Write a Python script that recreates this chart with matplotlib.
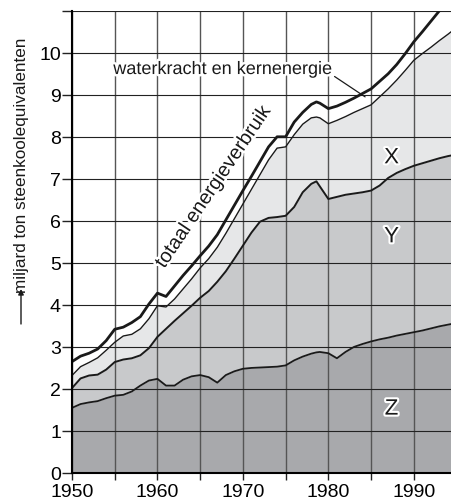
# Wereldenergieverbruik 1950-1995, gestapelde vlakken (Z, Y, X, waterkracht/kern)

import numpy as np
import matplotlib.pyplot as plt
import matplotlib.patheffects as pe

plt.rcParams['font.family'] = ['Liberation Sans', 'DejaVu Sans']

years = [1950, 1951, 1952, 1953, 1954, 1955, 1956, 1957, 1958, 1959,
         1960, 1961, 1962, 1963, 1964, 1965, 1966, 1967, 1968, 1969,
         1970, 1971, 1972, 1973, 1974, 1975, 1976, 1977, 1978, 1978.6,
         1979, 1980, 1981, 1982, 1983, 1984, 1985, 1986, 1987, 1988,
         1989, 1990, 1991, 1992, 1993, 1994, 1995]

# bovengrens van vlak Z
z_top = [1.55, 1.64, 1.68, 1.71, 1.78, 1.84, 1.86, 1.94, 2.08, 2.20,
         2.24, 2.08, 2.08, 2.22, 2.30, 2.33, 2.28, 2.15, 2.33, 2.42,
         2.48, 2.50, 2.51, 2.52, 2.53, 2.56, 2.68, 2.77, 2.84, 2.87,
         2.88, 2.85, 2.73, 2.88, 3.00, 3.07, 3.13, 3.18, 3.22, 3.27,
         3.31, 3.35, 3.39, 3.44, 3.49, 3.53, 3.57]

# bovengrens van vlak Y
y_top = [2.02, 2.25, 2.32, 2.34, 2.46, 2.64, 2.70, 2.73, 2.80, 2.97,
         3.24, 3.43, 3.62, 3.80, 3.98, 4.17, 4.33, 4.55, 4.80, 5.10,
         5.41, 5.72, 5.98, 6.07, 6.09, 6.12, 6.33, 6.68, 6.88, 6.94,
         6.82, 6.52, 6.57, 6.62, 6.65, 6.68, 6.72, 6.84, 7.02, 7.14,
         7.23, 7.31, 7.37, 7.43, 7.49, 7.54, 7.58]

# bovengrens van vlak X
x_top = [2.32, 2.53, 2.63, 2.74, 2.92, 3.11, 3.26, 3.30, 3.43, 3.67,
         3.98, 3.95, 4.14, 4.38, 4.62, 4.88, 5.10, 5.37, 5.70, 6.05,
         6.40, 6.75, 7.10, 7.45, 7.73, 7.76, 8.05, 8.30, 8.45, 8.47,
         8.45, 8.31, 8.39, 8.48, 8.58, 8.67, 8.76, 8.95, 9.14, 9.35,
         9.58, 9.82, 9.98, 10.13, 10.29, 10.44, 10.60]

# totaal energieverbruik
totaal = [2.65, 2.78, 2.85, 2.95, 3.15, 3.42, 3.47, 3.58, 3.72, 4.02,
          4.28, 4.20, 4.45, 4.70, 4.93, 5.17, 5.40, 5.67, 6.02, 6.37,
          6.72, 7.06, 7.41, 7.76, 8.00, 8.00, 8.35, 8.58, 8.77, 8.83,
          8.80, 8.67, 8.73, 8.82, 8.92, 9.03, 9.14, 9.32, 9.50, 9.72,
          9.98, 10.26, 10.50, 10.75, 11.00, 11.25, 11.50]

fig = plt.figure(figsize=(4.51, 5.02), dpi=100)
ax = fig.add_axes([72 / 451, 28 / 502, 1 - 72 / 451, 462.3 / 502])

ax.fill_between(years, 0, z_top, color='#a8a9ac', lw=0, zorder=1)
ax.fill_between(years, z_top, y_top, color='#c8c9cb', lw=0, zorder=1)
ax.fill_between(years, y_top, x_top, color='#e6e7e8', lw=0, zorder=1)
ax.fill_between(years, x_top, totaal, color='white', lw=0, zorder=1)

ax.plot(years, z_top, color='#1a1a1a', lw=1.3, zorder=3)
ax.plot(years, y_top, color='#1a1a1a', lw=1.4, zorder=3)
ax.plot(years, x_top, color='#1a1a1a', lw=1.0, zorder=3)
ax.plot(years, totaal, color='#1a1a1a', lw=2.0, zorder=3)

ax.set_xlim(1950, 1994.35)
ax.set_ylim(0, 11)

ax.set_xticks([1950, 1960, 1970, 1980, 1990])
ax.set_xticks([1955, 1965, 1975, 1985], minor=True)
ax.set_yticks(range(0, 12))
ax.set_yticklabels([str(i) for i in range(0, 11)] + [''])

ax.tick_params(axis='both', which='both', direction='out', color='#222', width=1.0)
ax.tick_params(axis='x', which='both', length=5, labelsize=14, pad=2)
ax.tick_params(axis='y', length=7, labelsize=14, pad=1)

ax.xaxis.grid(True, which='both', color='#555', lw=1.0, zorder=2)
ax.yaxis.grid(True, color='#222', lw=0.8, zorder=2)
ax.set_axisbelow(False)

for s in ['top', 'right']:
    ax.spines[s].set_visible(False)
for s in ['left', 'bottom']:
    ax.spines[s].set_linewidth(1.5)
    ax.spines[s].set_zorder(4)

halo = [pe.withStroke(linewidth=3.5, foreground='white')]

ax.annotate('waterkracht en kernenergie', xy=(1984.3, 8.95), xytext=(1980.4, 9.6),
            ha='right', va='center', fontsize=13, color='#1a1a1a', zorder=5,
            path_effects=halo,
            arrowprops=dict(arrowstyle='-', color='#1a1a1a', lw=0.9,
                            shrinkA=0, shrinkB=0, relpos=(1.0, 0.2)))

ax.text(1966.55, 6.82, 'totaal energieverbruik', rotation=56, rotation_mode='anchor',
        ha='center', va='center', fontsize=14.3, color='#1a1a1a', zorder=5,
        path_effects=halo)

for lab, ly in [('X', 7.5), ('Y', 5.62), ('Z', 1.52)]:
    ax.text(1987.4, ly, lab, ha='center', va='center', fontsize=16, color='#1a1a1a',
            zorder=5, path_effects=[pe.withStroke(linewidth=3, foreground='white')])

# as-titel met losse pijl eronder
fig.text(22 / 451, 1 - 165 / 502, 'miljard ton steenkoolequivalenten',
         rotation=90, ha='center', va='center', fontsize=12.3, color='#1a1a1a')
ax.annotate('', xy=(21, 502 - 290), xytext=(21, 502 - 325),
            xycoords='figure pixels', textcoords='figure pixels',
            arrowprops=dict(arrowstyle='-|>', color='#1a1a1a', lw=1.0,
                            mutation_scale=8, shrinkA=0, shrinkB=0))

fig.savefig('out.png', dpi=100)
